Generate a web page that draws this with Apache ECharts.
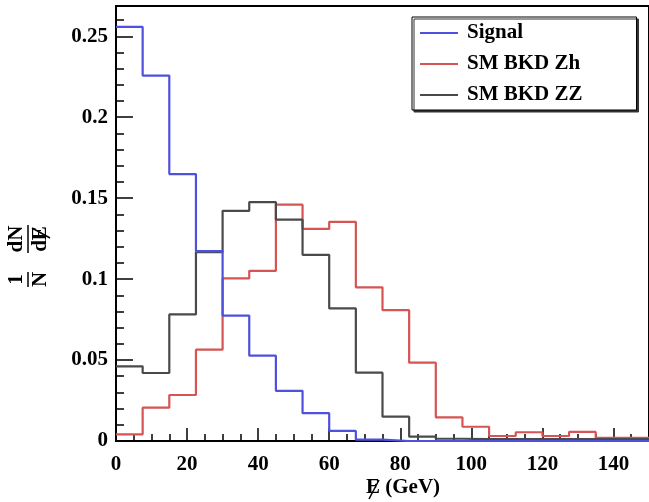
<!DOCTYPE html>
<html>
<head>
<meta charset="utf-8">
<script src="https://cdn.jsdelivr.net/npm/echarts@6/dist/echarts.min.js"></script>
<style>
    html, body { margin: 0; padding: 0; background: #fff; }
    #chart { width: 649px; height: 502px; }
</style>
</head>
<body>
<div id="chart"></div>
<script>
// normalised missing energy distributions, 20 bins of 7.5 GeV from 0 to 150
const binWidth = 7.5
const signal = [0.2558, 0.2257, 0.1649, 0.1173, 0.0775, 0.0527, 0.0310, 0.0172, 0.0062, 0.0008,
    0, 0, 0, 0, 0, 0, 0, 0, 0, 0]
const smZh = [0.0041, 0.0206, 0.0284, 0.0564, 0.1004, 0.1051, 0.1460, 0.1310, 0.1354, 0.0949,
    0.0808, 0.0484, 0.0146, 0.0088, 0.0031, 0.0054, 0.0031, 0.0056, 0.0020, 0.0020]
const smZZ = [0.0461, 0.0420, 0.0782, 0.1167, 0.1422, 0.1476, 0.1367, 0.1150, 0.0819, 0.0422,
    0.0150, 0.0027, 0.0014, 0.0012, 0.0012, 0.0012, 0.0012, 0.0012, 0.0012, 0.0012]
const seriesNames = ['Signal', 'SM BKD Zh', 'SM BKD ZZ']
const seriesColors = ['#5050e0', '#d65454', '#4a4a4a']

const font = 'Liberation Serif'
const bold21 = 'bold 21px "Liberation Serif"'

// bin low edges -> step points, plus the right edge of the last bin
function toSteps(vals) {
    let pts = vals.map((v, i) => [i * binWidth, v])
    pts.push([vals.length * binWidth, vals[vals.length - 1]])
    return pts
}

let myChart = echarts.init(document.getElementById('chart'))
let seriesData = []
let allData = [signal, smZh, smZZ]
// draw Zh, ZZ first, signal on top
let order = [1, 2, 0]
for (let k = 0; k < order.length; k++) {
    let i = order[k]
    seriesData.push({
        name: seriesNames[i], type: 'line', step: 'end', symbol: 'none',
        xAxisIndex: 0, yAxisIndex: 0,
        lineStyle: { width: 2.2, color: seriesColors[i] },
        itemStyle: { color: seriesColors[i] },
        data: toSteps(allData[i]), z: 3 + k
    })
}

let option = {
    animation: false,
    grid: {
        left: 116, top: 6, right: -3, bottom: 61,
        show: true, borderColor: '#000', borderWidth: 2, backgroundColor: '#fff'
    },
    legend: {
        orient: 'vertical',
        left: 412, top: 17,
        padding: [5, 54, 4, 8],
        icon: 'rect',
        itemWidth: 38, itemHeight: 2, itemGap: 9,
        backgroundColor: '#fff',
        borderColor: '#000', borderWidth: 1,
        shadowColor: '#333', shadowOffsetX: 2, shadowOffsetY: 2, shadowBlur: 0,
        data: seriesNames,
        textStyle: { fontFamily: font, fontWeight: 'bold', fontSize: 21, color: '#000', lineHeight: 22, padding: [0, 0, 0, 4] }
    },
    xAxis: [{
        type: 'value', min: 0, max: 150, interval: 20, position: 'bottom',
        axisLine: { show: true, lineStyle: { color: '#000', width: 2 } },
        axisTick: { show: true, inside: true, length: 13, lineStyle: { color: '#000', width: 1.5 } },
        splitLine: { show: false },
        axisLabel: { showMaxLabel: false, margin: 13, fontFamily: font, fontWeight: 'bold', fontSize: 21, color: '#000' }
    }, {
        // minor ticks every 5
        type: 'value', min: 0, max: 150, interval: 5, position: 'bottom',
        axisLine: { show: false },
        axisTick: { show: true, inside: true, length: 7, lineStyle: { color: '#000', width: 1.5 } },
        splitLine: { show: false },
        axisLabel: { show: false }
    }],
    yAxis: [{
        type: 'value', min: 0, max: 0.2687, interval: 0.05,
        axisLine: { show: true, lineStyle: { color: '#000', width: 2 } },
        axisTick: { show: true, inside: true, length: 17, lineStyle: { color: '#000', width: 1.5 } },
        splitLine: { show: false },
        axisLabel: { showMaxLabel: false, margin: 8, fontFamily: font, fontWeight: 'bold', fontSize: 21, color: '#000' }
    }, {
        // minor ticks every 0.01
        type: 'value', min: 0, max: 0.2687, interval: 0.01, position: 'left',
        axisLine: { show: false },
        axisTick: { show: true, inside: true, length: 8, lineStyle: { color: '#000', width: 1.5 } },
        splitLine: { show: false },
        axisLabel: { show: false }
    }],
    graphic: [{
        // x title, E with a slash drawn over it
        type: 'group', x: 366, y: 488,
        children: [
            { type: 'text', x: 0, y: 0, style: { text: 'E (GeV)', font: bold21, fill: '#000', align: 'left', verticalAlign: 'middle' } },
            { type: 'line', shape: { x1: 3, y1: 11, x2: 13, y2: -8 }, style: { stroke: '#000', lineWidth: 1.5 } }
        ]
    }, {
        // y title: 1/N dN/dE, rotated
        type: 'group', x: 28, y: 287, rotation: Math.PI / 2,
        children: [
            { type: 'text', x: 7.5, y: -1, style: { text: '1', font: bold21, fill: '#000', align: 'center', verticalAlign: 'bottom' } },
            { type: 'line', shape: { x1: 0, y1: 0, x2: 15, y2: 0 }, style: { stroke: '#000', lineWidth: 1.5 } },
            { type: 'text', x: 7.5, y: 2, style: { text: 'N', font: bold21, fill: '#000', align: 'center', verticalAlign: 'top' } },
            { type: 'text', x: 48, y: -1, style: { text: 'dN', font: bold21, fill: '#000', align: 'center', verticalAlign: 'bottom' } },
            { type: 'line', shape: { x1: 34, y1: 0, x2: 62, y2: 0 }, style: { stroke: '#000', lineWidth: 1.5 } },
            { type: 'text', x: 48, y: 2, style: { text: 'dE', font: bold21, fill: '#000', align: 'center', verticalAlign: 'top' } },
            { type: 'line', shape: { x1: 49, y1: 22, x2: 59, y2: 4 }, style: { stroke: '#000', lineWidth: 1.5 } }
        ]
    }],
    series: seriesData
}
myChart.setOption(option)
window.addEventListener('resize', function() {
    myChart.resize()
})
</script>
</body>
</html>
